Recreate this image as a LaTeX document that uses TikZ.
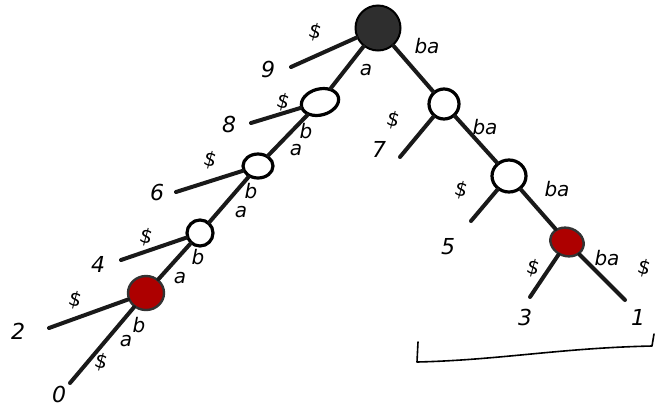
\documentclass[tikz,border=0pt]{standalone}
\usepackage{fontspec}
\setmainfont{DejaVu Sans}
\usetikzlibrary{shapes.geometric}
\begin{document}
\begin{tikzpicture}[x=1pt,y=-1pt,
  edge/.style={line width=4pt,draw=black!90,line cap=round},
  inner/.style={ellipse,draw=black,line width=3.2pt,fill=white,inner sep=0pt},
  rootnode/.style={circle,draw=black,line width=2pt,fill=black!82,minimum size=45pt,inner sep=0pt},
  rednode/.style={ellipse,draw=black!80,line width=2.4pt,fill=red!68!black,inner sep=0pt},
  lbl/.style={font=\fontsize{20}{20}\selectfont\itshape,inner sep=0pt},
  num/.style={font=\fontsize{22}{22}\selectfont\itshape,inner sep=0pt},
  dol/.style={font=\fontsize{20}{20}\selectfont,inner sep=0pt,rotate=-15}
]
\useasboundingbox (0,0) rectangle (655,408);
% nodes
\node[rootnode] (r) at (378,28) {};
\node[inner,minimum width=38pt,minimum height=26pt,rotate=15] (a1) at (320,102) {};
\node[inner,minimum width=30pt,minimum height=24pt] (a2) at (258,166) {};
\node[inner,minimum width=26pt,minimum height=26pt] (a3) at (200,233) {};
\node[rednode,minimum width=36pt,minimum height=34pt] (a4) at (146,293) {};
\node[inner,minimum width=30pt,minimum height=30pt] (b1) at (444,104) {};
\node[inner,minimum width=34pt,minimum height=32pt] (b2) at (509,176) {};
\node[rednode,minimum width=34pt,minimum height=28pt,rotate=-20] (b3) at (567,242) {};
% leaf ends
\coordinate (l9) at (291,67);
\coordinate (l8) at (251,123);
\coordinate (l6) at (176,192);
\coordinate (l4) at (121,260);
\coordinate (l2) at (49,328);
\coordinate (l0) at (70,383);
\coordinate (l7) at (400,157);
\coordinate (l5) at (471,221);
\coordinate (l3) at (530,297);
\coordinate (l1) at (625,300);
% edges
\draw[edge] (r) -- (a1);
\draw[edge] (a1) -- (a2);
\draw[edge] (a2) -- (a3);
\draw[edge] (a3) -- (a4);
\draw[edge] (r) -- (b1);
\draw[edge] (b1) -- (b2);
\draw[edge] (b2) -- (b3);
\draw[edge] (r) -- (l9);
\draw[edge] (a1) -- (l8);
\draw[edge] (a2) -- (l6);
\draw[edge] (a3) -- (l4);
\draw[edge] (a4) -- (l2);
\draw[edge] (a4) -- (l0);
\draw[edge] (b1) -- (l7);
\draw[edge] (b2) -- (l5);
\draw[edge] (b3) -- (l3);
\draw[edge] (b3) -- (l1);
% edge labels
\node[lbl] (e1) at (366,70) {a};
\node[lbl] (e2) at (427,46) {ba};
\node[lbl] (e3) at (306,131) {b};
\node[lbl] (e4) at (296,150) {a};
\node[lbl] (e5) at (251,191) {b};
\node[lbl] (e6) at (241,212) {a};
\node[lbl] (e7) at (198,257) {b};
\node[lbl] (e8) at (180,278) {a};
\node[lbl] (e9) at (139,325) {b};
\node[lbl] (e10) at (126,341) {a};
\node[lbl] (e11) at (485,127) {ba};
\node[lbl] (e12) at (557,189) {ba};
\node[lbl] (e13) at (607,258) {ba};
% dollar labels
\node[dol] (d9) at (315,32) {\$};
\node[dol] (d8) at (283,102) {\$};
\node[dol] (d6) at (210,160) {\$};
\node[dol] (d4) at (146,237) {\$};
\node[dol] (d2) at (75,300) {\$};
\node[dol] (d0) at (101,362) {\$};
\node[dol] (d7) at (393,120) {\$};
\node[dol] (d5) at (461,190) {\$};
\node[dol] (d3) at (533,268) {\$};
\node[dol] (d1) at (644,268) {\$};
% leaf numbers
\node[num] (n9) at (268,69) {9};
\node[num] (n8) at (229,124) {8};
\node[num] (n6) at (157,192) {6};
\node[num] (n4) at (98,264) {4};
\node[num] (n2) at (18,331) {2};
\node[num] (n0) at (59,394) {0};
\node[num] (n7) at (379,149) {7};
\node[num] (n5) at (448,247) {5};
\node[num] (n3) at (525,317) {3};
\node[num] (n1) at (638,317) {1};
% bracket
\coordinate (br1) at (418,342);
\coordinate (br2) at (417,362);
\coordinate (br3) at (652,346);
\coordinate (br4) at (654,334);
\draw[line width=1.6pt,line cap=round,line join=round] (br1) -- (br2) .. controls (500,360) and (560,348) .. (br3) -- (br4);
\end{tikzpicture}
\end{document}
